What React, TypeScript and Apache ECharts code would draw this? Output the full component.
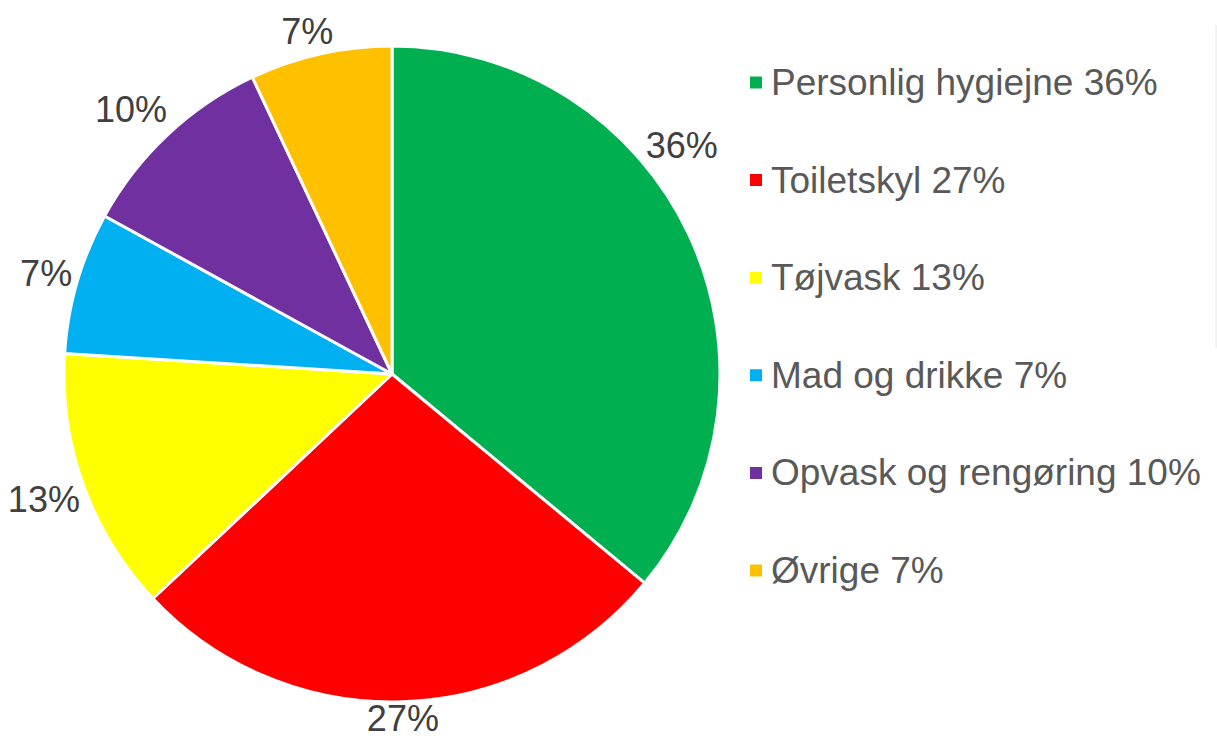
import React, { useEffect, useRef } from "react";
import * as echarts from "echarts";

const categories = ["Personlig hygiejne", "Toiletskyl", "Tøjvask", "Mad og drikke", "Opvask og rengøring", "Øvrige"];
const values = [36, 27, 13, 7, 10, 7];
const colors = ["#00B050", "#FF0000", "#FFFF00", "#00B0F0", "#7030A0", "#FFC000"];

const FONT = "Liberation Sans, Arial, sans-serif";

export default function App() {
  const ref = useRef<HTMLDivElement>(null);
  useEffect(() => {
    document.body.style.margin = "0";
    const chart = echarts.init(ref.current!, null, { renderer: "svg" });
    const data = categories.map((name, i) => ({
      name,
      value: values[i],
      itemStyle: { color: colors[i] },
    }));
    // Excel "best fit" moved the first label upward along the arc
    const nudges: Record<number, [number, number]> = { 0: [-45, -71], 1: [0, -2], 4: [-10, 3], 5: [-8, 0] };
    chart.setOption({
      animation: false,
      backgroundColor: "#ffffff",
      legend: {
        orient: "vertical",
        left: 743,
        top: 59,
        icon: "rect",
        itemWidth: 14,
        itemHeight: 14,
        itemGap: 60.6,
        selectedMode: false,
        formatter: (name: string) => `${name} ${values[categories.indexOf(name)]}%`,
        textStyle: {
          fontSize: 37,
          lineHeight: 36,
          color: "#595959",
          fontFamily: FONT,
          padding: [0, 0, 0, 3],
        },
      },
      graphic: [
        { type: "line", shape: { x1: 1216, y1: 25, x2: 1216, y2: 348 }, style: { stroke: "#e6e6e6", lineWidth: 1 } },
      ],
      series: [
        {
          type: "pie",
          center: [392, 374],
          radius: [0, 328],
          startAngle: 90,
          clockwise: true,
          avoidLabelOverlap: false,
          itemStyle: { borderColor: "#ffffff", borderWidth: 3 },
          label: {
            show: true,
            position: "outside",
            formatter: "{c}%",
            fontSize: 36,
            lineHeight: 30,
            color: "#404040",
            fontFamily: FONT,
          },
          labelLine: { show: true, length: 20, length2: 0, lineStyle: { opacity: 0, width: 0 } },
          labelLayout: (p: any) => {
            const pts = p.labelLinePoints;
            if (!pts || pts.length < 2) return {};
            const [x0, y0] = pts[0];
            const [x1, y1] = pts[1];
            let dx = x1 - x0;
            let dy = y1 - y0;
            const len = Math.hypot(dx, dy) || 1;
            dx /= len;
            dy /= len;
            const w = p.labelRect.width;
            const h = 30;
            const ext = (w / 2) * Math.abs(dx) + (h / 2) * Math.abs(dy);
            const gap = 3;
            const n = nudges[p.dataIndex] || [0, 0];
            return {
              x: x0 + dx * (gap + ext) + n[0],
              y: y0 + dy * (gap + ext) + n[1],
              align: "center",
              verticalAlign: "middle",
            };
          },
          data,
        },
      ],
    });
    return () => chart.dispose();
  }, []);
  return <div ref={ref} style={{ position: "fixed", left: 0, top: 0, width: 1217, height: 738 }} />;
}
